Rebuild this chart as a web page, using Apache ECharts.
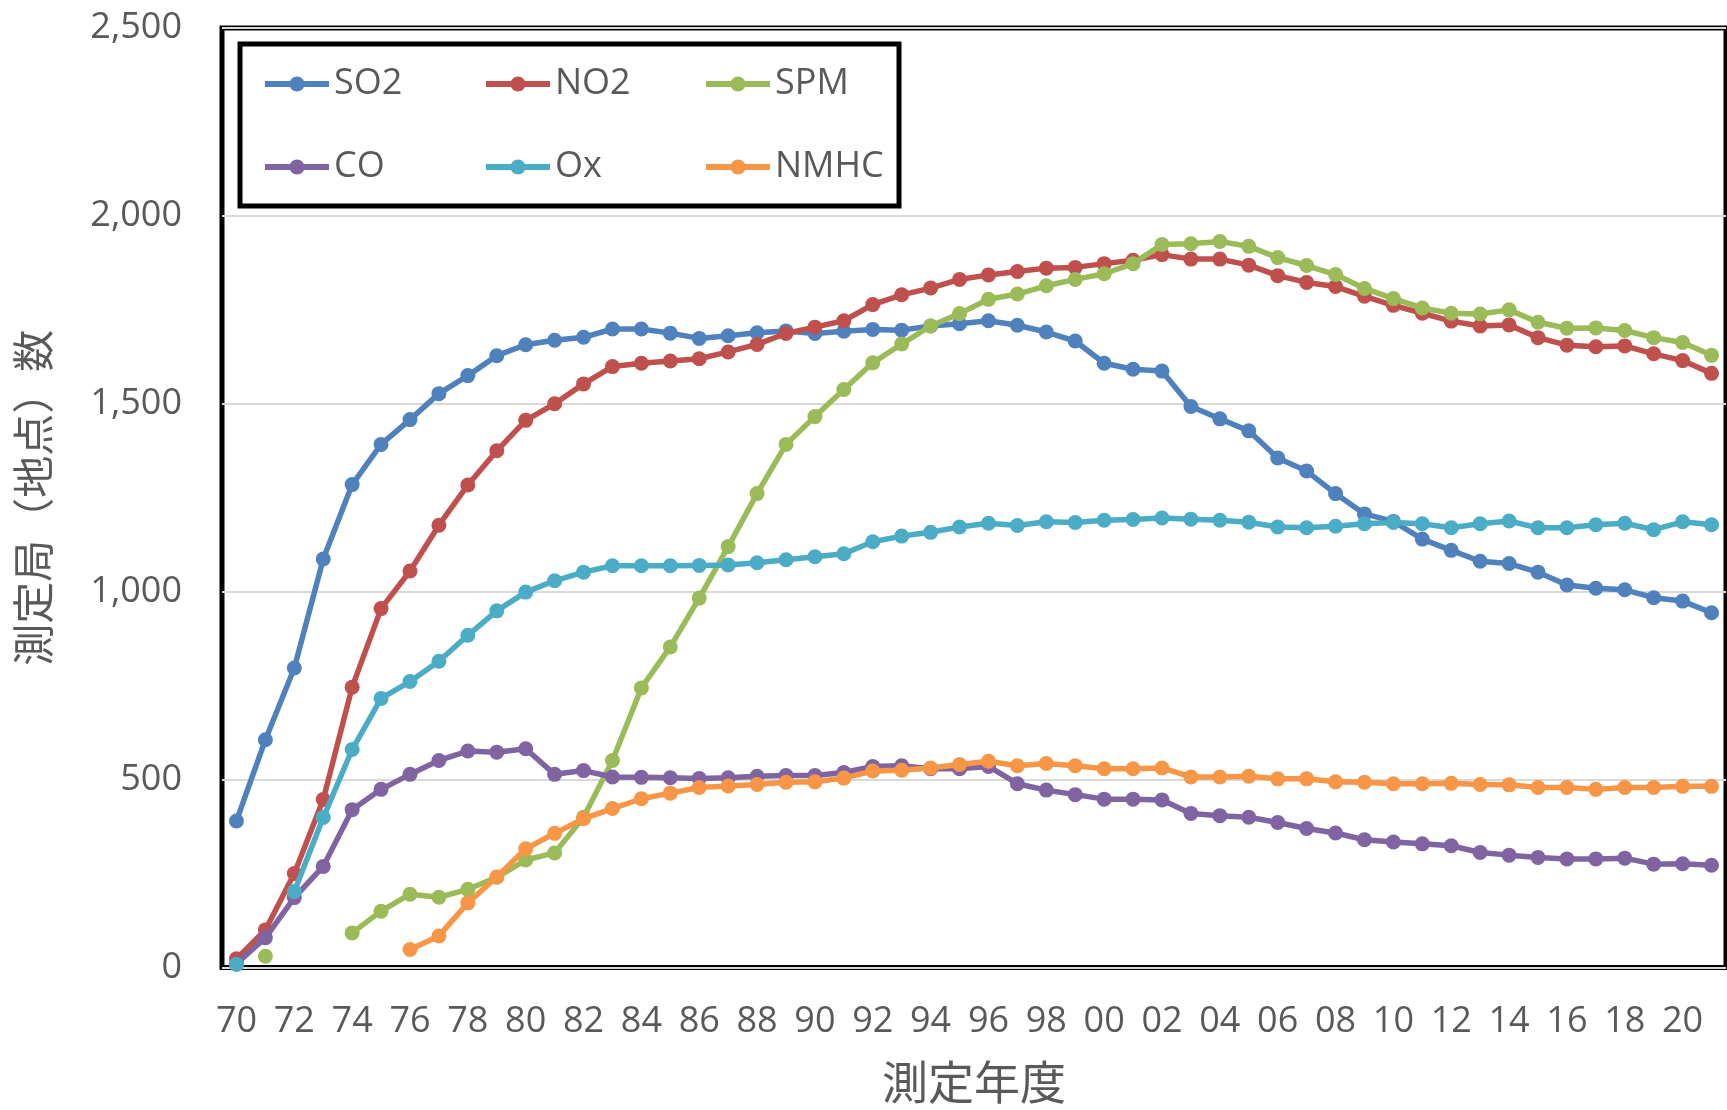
<!DOCTYPE html>
<html>
<head>
<meta charset="utf-8">
<script src="https://cdn.jsdelivr.net/npm/echarts@6/dist/echarts.min.js"></script>
<style>
html,body{margin:0;padding:0;background:#fff;}
#chart{width:1727px;height:1110px;}
</style>
</head>
<body>
<div id="chart"></div>
<script>
const years = ['70','71','72','73','74','75','76','77','78','79','80','81','82','83','84','85','86','87','88','89',
  '90','91','92','93','94','95','96','97','98','99','00','01','02','03','04','05','06','07','08','09',
  '10','11','12','13','14','15','16','17','18','19','20','21'];

const so2 = [390,606,797,1087,1285,1392,1458,1527,1575,1628,1657,1669,1677,1699,1699,1688,1674,1681,1689,1694,
  1687,1693,1698,1696,1707,1713,1721,1709,1691,1667,1608,1592,1587,1493,1460,1428,1356,1321,1261,1207,
  1187,1140,1110,1081,1075,1052,1018,1009,1005,984,975,944];

const no2 = [23,100,250,447,746,955,1055,1177,1284,1375,1456,1500,1553,1599,1608,1614,1620,1638,1658,1687,
  1704,1721,1764,1790,1808,1831,1843,1852,1861,1863,1873,1882,1897,1885,1885,1869,1841,1823,1812,1786,
  1762,1741,1720,1707,1710,1676,1656,1652,1654,1633,1615,1581];

const spm = [null,30,null,null,92,150,195,187,208,240,286,305,400,551,744,853,983,1120,1261,1392,
  1466,1538,1609,1659,1707,1740,1778,1792,1814,1831,1846,1873,1924,1926,1932,1919,1889,1868,1844,1807,
  1780,1755,1741,1739,1750,1717,1701,1702,1695,1676,1663,1629];

const co = [10,79,186,269,420,474,514,551,576,573,582,514,524,507,506,505,503,505,509,511,
  511,519,535,537,529,529,535,489,472,460,448,448,446,410,404,400,386,370,358,340,
  334,329,324,306,299,293,289,289,291,275,276,272];

const ox = [8,null,202,399,580,716,761,815,884,949,999,1029,1052,1069,1069,1069,1070,1071,1077,1085,
  1093,1101,1133,1148,1158,1172,1182,1176,1186,1184,1190,1192,1196,1193,1190,1185,1172,1170,1174,1181,
  1184,1181,1170,1181,1188,1170,1170,1178,1182,1165,1186,1178];

const nmhc = [null,null,null,null,null,null,48,84,172,241,316,357,396,423,449,464,479,483,487,493,
  494,504,523,525,531,540,549,537,543,537,529,529,531,507,507,509,502,502,494,493,
  489,489,490,487,486,479,479,474,479,479,482,482];

const seriesNames = ['SO2','NO2','SPM','CO','Ox','NMHC'];
const seriesData = [so2, no2, spm, co, ox, nmhc];
const colors = ['#4F81BD','#C0504D','#9BBB59','#8064A2','#4BACC6','#F79646'];
const yTicks = [0, 500, 1000, 1500, 2000, 2500];
const xTitle = '測定年度';
const yTitle = '測定局（地点）数';

const latin = "'Open Sans', 'Noto Sans', sans-serif";
const cjk = "'Noto Sans CJK JP', sans-serif";
const textColor = '#595959';

const chart = echarts.init(document.getElementById('chart'));

const legendPos = [
  {left: 262, top: 64}, {left: 483, top: 64}, {left: 703, top: 64},
  {left: 262, top: 147}, {left: 483, top: 147}, {left: 703, top: 147}
];

const option = {
  animation: false,
  color: colors,
  grid: {
    left: 222, top: 28, width: 1504, height: 939.5,
    show: true, borderColor: '#000', borderWidth: 5, backgroundColor: 'transparent'
  },
  legend: seriesNames.map((n, i) => ({
    data: [n],
    left: legendPos[i].left, top: legendPos[i].top,
    padding: 0,
    itemWidth: 64, itemHeight: 19,
    lineStyle: {width: 6},
    textStyle: {fontFamily: latin, fontSize: 36, color: textColor, lineHeight: 40},
    selectedMode: false,
    z: 10
  })),
  graphic: [{
    type: 'rect', z: 5,
    shape: {x: 240, y: 44, width: 659, height: 162},
    style: {fill: '#fff', stroke: '#000', lineWidth: 5}
  }],
  xAxis: {
    type: 'category',
    data: years,
    boundaryGap: true,
    axisLine: {show: false},
    axisTick: {show: false},
    axisLabel: {interval: 1, margin: 36, fontFamily: latin, fontSize: 36, color: textColor},
    name: xTitle,
    nameLocation: 'middle',
    nameGap: 91,
    nameTextStyle: {fontFamily: cjk, fontSize: 46, color: textColor}
  },
  yAxis: {
    type: 'value',
    min: yTicks[0], max: yTicks[yTicks.length - 1], interval: yTicks[1] - yTicks[0],
    axisLine: {show: false},
    axisTick: {show: false},
    splitLine: {lineStyle: {color: '#D9D9D9', width: 2}},
    axisLabel: {
      margin: 40, fontFamily: latin, fontSize: 36, color: textColor,
      formatter: v => v.toLocaleString('en-US')
    },
    name: yTitle,
    nameLocation: 'middle',
    nameGap: 168,
    nameTextStyle: {fontFamily: cjk, fontSize: 42, color: textColor}
  },
  series: seriesNames.map((n, i) => ({
    name: n,
    type: 'line',
    data: seriesData[i],
    symbol: 'circle',
    symbolSize: 15,
    showSymbol: true,
    showAllSymbol: true,
    connectNulls: false,
    lineStyle: {width: 5.5, color: colors[i]},
    itemStyle: {color: colors[i]},
    z: 2 + i
  }))
};

chart.setOption(option);
</script>
</body>
</html>
